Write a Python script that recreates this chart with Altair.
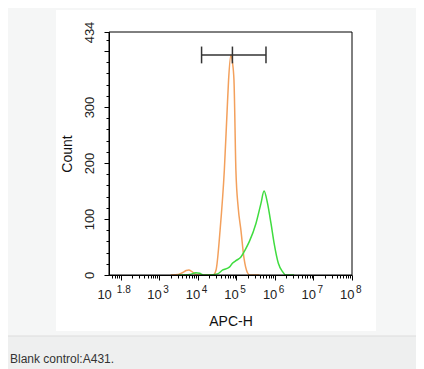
import altair as alt
import pandas as pd
import numpy as np

# ---- data ----
# Blank control (orange): x as log10(APC-H), y = count
orange_exp = [3.3, 3.5, 3.6, 3.7, 3.77, 3.85, 3.93, 4.02, 4.4, 4.475, 4.58, 4.69, 4.76, 4.80, 4.86, 4.90, 4.94, 4.99, 5.05, 5.12, 5.20, 5.29, 5.35, 5.6]
orange_cnt = [0, 1, 4, 8, 9, 6, 2, 0, 0, 9, 80, 187, 290, 348, 393, 380, 348, 187, 120, 80, 30, 4, 0, 0]
# A431 (green)
green_exp = [3.5, 3.8, 3.95, 4.05, 4.15, 4.3, 4.51, 4.65, 4.82, 4.90, 5.0, 5.12, 5.23, 5.34, 5.51, 5.64, 5.72, 5.81, 5.90, 5.98, 6.09, 6.20, 6.28, 6.5]
green_cnt = [0, 1, 4, 3, 0, 0, 2, 9, 14, 21, 26, 32, 45, 60, 92, 128, 150, 128, 92, 57, 21, 6, 0, 0]

series_names = ["Blank control", "A431"]
series_colors = ["#f3a05c", "#3fdc3f"]

# gate marker
gate_exp = [4.10, 4.90, 5.77]
gate_count = 393
gate_half = 15

# axis labels
major_exps = [1.8, 3, 4, 5, 6, 7, 8]
exp_text = ["1.8", "3", "4", "5", "6", "7", "8"]
y_label_values = [0, 100, 200, 300, 434]
x_title = "APC-H"
y_title = "Count"
caption = "Blank control:A431."

W, H = 243, 243
PAD = {"left": 101, "top": 24, "right": 64, "bottom": 94}
XMIN_EXP, XMAX_EXP = 1.7, 8
YMAX = 434

# ---- tables ----
curves = pd.concat([
    pd.DataFrame({"x": [10 ** e for e in orange_exp], "count": orange_cnt, "series": series_names[0], "order": range(len(orange_exp))}),
    pd.DataFrame({"x": [10 ** e for e in green_exp], "count": green_cnt, "series": series_names[1], "order": range(len(green_exp))}),
])
gate_h = pd.DataFrame({"x": [10 ** gate_exp[0]], "x2": [10 ** gate_exp[-1]], "count": [gate_count]})
gate_v = pd.DataFrame({"x": [10 ** e for e in gate_exp], "count": [gate_count - gate_half] * 3, "y2": [gate_count + gate_half] * 3})
labels = pd.DataFrame({"x": [10 ** e for e in major_exps], "base": ["10"] * len(major_exps), "exp": exp_text, "e": major_exps})

# axis tick positions (minor log ticks and linear y ticks)
x_tick_vals = [k * 10.0 ** d for d in range(1, 8) for k in range(1, 10) if XMIN_EXP <= np.log10(k * 10.0 ** d) <= XMAX_EXP] + [1e8]
y_tick_vals = list(range(0, 421, 20)) + [YMAX]

xscale = alt.Scale(type="log", domain=[10 ** XMIN_EXP, 10 ** XMAX_EXP], nice=False)
yscale = alt.Scale(domain=[0, YMAX], nice=False, zero=True)

FONT = "Arial, Liberation Sans, sans-serif"

x_axis = alt.Axis(
    values=x_tick_vals, labels=False, grid=False, zindex=1,
    domainColor="black", tickColor="black", tickWidth=1,
    tickSize={"condition": {"test": "abs(log(datum.value)/LN10 - round(log(datum.value)/LN10)) < 1e-6", "value": 5}, "value": 3},
    title=x_title, titleFont=FONT, titleFontSize=14, titleFontWeight="normal", titleColor="#111", titlePadding=34,
)
y_label_test = " || ".join(f"datum.value == {v}" for v in y_label_values)
y_axis = alt.Axis(
    values=y_tick_vals, grid=False, zindex=1, labelOverlap=False, labelFlush=False,
    labelExpr=f"({y_label_test}) ? datum.label : ''",
    labelAngle=270, labelAlign="center", labelBaseline="bottom", labelPadding=8,
    labelFont=FONT, labelFontSize=13, labelColor="#222",
    domainColor="black", tickColor="black", tickWidth=1,
    tickSize={"condition": {"test": "datum.value % 100 == 0 || datum.value == 434", "value": 5}, "value": 3},
    title=y_title, titleFont=FONT, titleFontSize=14, titleFontWeight="normal", titleColor="#111", titlePadding=9,
)

X = lambda f="x:Q": alt.X(f, scale=xscale, axis=x_axis)
Y = lambda f="count:Q": alt.Y(f, scale=yscale, axis=y_axis)

one = pd.DataFrame({"caption": [caption]})

white_box = alt.Chart(one).mark_rect(color="white").encode(
    x=alt.value(-53), x2=alt.value(267), y=alt.value(-22), y2=alt.value(299))
band = alt.Chart(one).mark_rect(color="#eeefef").encode(
    x=alt.value(-PAD["left"]), x2=alt.value(W + PAD["right"]), y=alt.value(304), y2=alt.value(H + PAD["bottom"]))
band_line = alt.Chart(one).mark_rule(color="#dcdddd", strokeWidth=1).encode(
    x=alt.value(-PAD["left"]), x2=alt.value(W + PAD["right"]), y=alt.value(304))
cap_text = alt.Chart(one).mark_text(align="left", baseline="alphabetic", font=FONT, fontSize=12, color="#333").encode(
    x=alt.value(-99), y=alt.value(331), text="caption:N")

lines = alt.Chart(curves).mark_line(strokeWidth=1.5, interpolate="monotone").encode(
    x=X(), y=Y(),
    color=alt.Color("series:N", scale=alt.Scale(domain=series_names, range=series_colors), legend=None),
    order="order:Q",
    detail="series:N",
)

gate_line = alt.Chart(gate_h).mark_rule(color="#333", strokeWidth=1.5).encode(
    x=X(), x2="x2:Q", y=Y())
gate_caps = alt.Chart(gate_v).mark_rule(color="#333", strokeWidth=1.5).encode(
    x=X(), y=Y(), y2="y2:Q")

BASE_FS, EXP_FS = 13, 10
base_main = alt.Chart(labels).transform_filter("datum.e != 1.8").mark_text(
    align="right", baseline="alphabetic", font=FONT, fontSize=BASE_FS, color="#222", dx=2.5).encode(
    x=X(), y=alt.value(H + 24), text="base:N")
exp_main = alt.Chart(labels).transform_filter("datum.e != 1.8").mark_text(
    align="left", baseline="alphabetic", font=FONT, fontSize=EXP_FS, color="#222", dx=4).encode(
    x=X(), y=alt.value(H + 18), text="exp:N")
base_first = alt.Chart(labels).transform_filter("datum.e == 1.8").mark_text(
    align="right", baseline="alphabetic", font=FONT, fontSize=BASE_FS, color="#222", dx=-1).encode(
    x=X(), y=alt.value(H + 24), text="base:N")
exp_first = alt.Chart(labels).transform_filter("datum.e == 1.8").mark_text(
    align="left", baseline="alphabetic", font=FONT, fontSize=EXP_FS, color="#222", dx=4).encode(
    x=X(), y=alt.value(H + 18), text="exp:N")

frame = alt.Chart(one).mark_rect(fillOpacity=0, stroke="black", strokeWidth=1).encode(
    x=alt.value(0), x2=alt.value(W), y=alt.value(0), y2=alt.value(H))

chart = alt.layer(
    white_box, band, band_line, cap_text, lines, gate_line, gate_caps,
    base_main, exp_main, base_first, exp_first, frame
).properties(
    width=W, height=H,
    autosize=alt.AutoSizeParams(type="none"),
    padding=PAD,
    background="#f5f6f6",
).configure_view(strokeWidth=0)

chart.save("out.html", embed_options={"renderer": "svg", "actions": False})
